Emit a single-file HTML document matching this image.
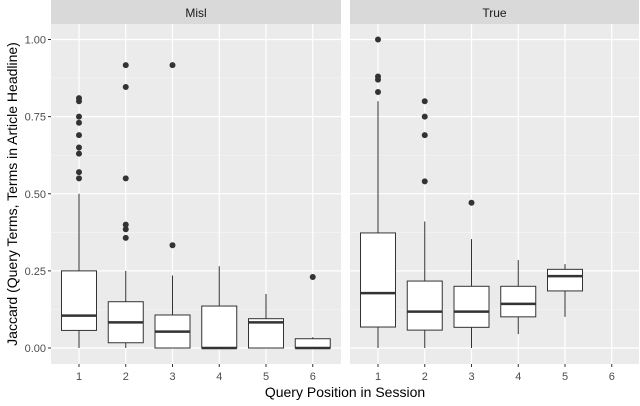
<!DOCTYPE html>
<html><head><meta charset="utf-8"><style>
body{margin:0;background:#fff;font-family:"Liberation Sans",sans-serif}
</style></head><body>
<svg id="c" width="640" height="401" xmlns="http://www.w3.org/2000/svg" font-family="Liberation Sans, sans-serif"></svg>
<script>
const categories=[1,2,3,4,5,6];
const panels=["Misl","True"];
const yTicks=[0,0.25,0.5,0.75,1.0];
const yTickLabels=["0.00","0.25","0.50","0.75","1.00"];
// [lo, q1, median, q3, hi] or null
const mislBoxes=[[0,0.057,0.105,0.25,0.50],[0,0.017,0.083,0.15,0.25],[0,0,0.053,0.107,0.235],[0,0,0,0.136,0.265],[0,0,0.083,0.095,0.175],[0,0,0,0.03,0.035]];
const trueBoxes=[[0,0.068,0.178,0.373,0.80],[0,0.058,0.118,0.217,0.41],[0,0.067,0.118,0.2,0.353],[0.045,0.101,0.143,0.2,0.285],[0.101,0.185,0.233,0.255,0.272],null];
const mislOutliers=[[0.81,0.80,0.75,0.73,0.69,0.65,0.63,0.57,0.55],[0.917,0.846,0.55,0.40,0.385,0.357],[0.917,0.333],[],[],[0.23]];
const trueOutliers=[[1.0,0.88,0.87,0.83],[0.80,0.75,0.69,0.54],[0.471],[],[],[]];
const svg=document.getElementById('c');
const NS="http://www.w3.org/2000/svg";
function mk(t,a,p){const e=document.createElementNS(NS,t);for(const k in a)e.setAttribute(k,a[k]);(p||svg).appendChild(e);return e;}
const y=v=>348-308.5*v;
const panelX=[51,350],panelW=[290,289];
const x=(p,c)=>panelX[p]+28+(c-1)*46.75;
const boxesAll=[mislBoxes,trueBoxes],outAll=[mislOutliers,trueOutliers];
panels.forEach((name,p)=>{
  const g=mk('g',{});
  
  
  const bg=mk('rect',{x:panelX[p],y:24,width:panelW[p],height:340,fill:'#ebebeb'},g);
  
  
  const st=mk('rect',{x:panelX[p],y:0,width:panelW[p],height:24,fill:'#d9d9d9'},g);
  
  
  const stt=mk('text',{x:panelX[p]+panelW[p]/2,y:17,'text-anchor':'middle','font-size':12,fill:'#1a1a1a'},g);
  stt.textContent=name;
  
  
  for(let i=0;i<yTicks.length-1;i++){const m=(yTicks[i]+yTicks[i+1])/2;mk('line',{x1:panelX[p],x2:panelX[p]+panelW[p],y1:y(m),y2:y(m),stroke:'#f5f5f5','stroke-width':0.6},g);}
  yTicks.forEach(t=>mk('line',{x1:panelX[p],x2:panelX[p]+panelW[p],y1:y(t),y2:y(t),stroke:'#fff','stroke-width':1.2},g));
  categories.forEach(c=>{
    mk('line',{x1:x(p,c),x2:x(p,c),y1:24,y2:364,stroke:'#fff','stroke-width':1.2},g);
    const tl=mk('text',{x:x(p,c),y:380,'text-anchor':'middle','font-size':11,fill:'#4d4d4d'},g);
    tl.textContent=c;
    
    
    mk('line',{x1:x(p,c),x2:x(p,c),y1:364,y2:367,stroke:'#333'},g);
  });
  categories.forEach((c,i)=>{
    const b=boxesAll[p][i];const cx=x(p,c);
    if(b){
      const bx=mk('g',{},g);
      
      
      mk('line',{x1:cx,x2:cx,y1:y(b[0]),y2:y(b[1]),stroke:'#333','stroke-width':1},bx);
      mk('line',{x1:cx,x2:cx,y1:y(b[3]),y2:y(b[4]),stroke:'#333','stroke-width':1},bx);
      mk('rect',{x:cx-17.5,y:y(b[3]),width:35,height:Math.max(y(b[1])-y(b[3]),0.5),fill:'#fff',stroke:'#333','stroke-width':1},bx);
      mk('line',{x1:cx-17.5,x2:cx+17.5,y1:y(b[2]),y2:y(b[2]),stroke:'#333','stroke-width':2.5},bx);
    }
    outAll[p][i].forEach(v=>{
      const o=mk('circle',{cx:cx,cy:y(v),r:3,fill:'#333'},g);
      
      
    });
  });
});
yTicks.forEach((t,i)=>{
  const tl=mk('text',{x:46,y:y(t)+4,'text-anchor':'end','font-size':11,fill:'#4d4d4d'});
  tl.textContent=yTickLabels[i];
  
  
  mk('line',{x1:48,x2:51,y1:y(t),y2:y(t),stroke:'#333'});
});
const xt=mk('text',{x:345,y:397,'text-anchor':'middle','font-size':14,fill:'#000'});
xt.textContent='Query Position in Session';


const yt=mk('text',{x:0,y:0,'text-anchor':'middle','font-size':14,fill:'#000',transform:'translate(17,194) rotate(-90)'});
yt.textContent='Jaccard (Query Terms, Terms in Article Headline)';


</script>
</body></html>
